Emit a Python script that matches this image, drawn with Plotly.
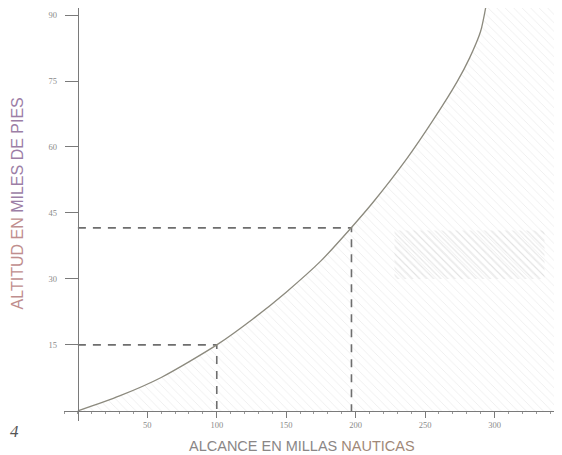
import plotly.graph_objects as go

# Data
curve_x = [0, 30, 60, 100, 126, 150, 175, 197, 213, 237, 256, 273, 282, 290, 294]
curve_y = [0, 3.4, 7.6, 15, 20.9, 27.0, 34.1, 41.7, 47.6, 57.4, 66.2, 74.8, 80.2, 86.3, 92.3]
ref_x = [100, 197]
ref_y = [15, 41.6]
x_ticks = [50, 100, 150, 200, 250, 300]
y_ticks = [15, 30, 45, 60, 75, 90]
band_x = [228, 336]
band_y = [30, 41]

X_RANGE = [-10, 348.6]
Y_RANGE = [-2.3, 91.6]

# the page puts the figure 8px in from the window's top-left corner
OFF = 8
W, H = 562 - OFF, 455 - OFF
ML, MR, MT, MB = 63.6 - OFF, 0, 0, 34
PW, PH = W - ML - MR, H - MT - MB


def px_to_paper(px, py):
    return (px - OFF - ML) / PW, (H - MB - (py - OFF)) / PH


fig = go.Figure()

# hatched region right of the curve
poly_x = list(curve_x) + [X_RANGE[1], X_RANGE[1], curve_x[0]]
poly_y = list(curve_y) + [Y_RANGE[1], 0, curve_y[0]]
fig.add_trace(go.Scatter(
    x=poly_x, y=poly_y, mode="lines", fill="toself",
    line=dict(width=0), fillcolor="rgba(0,0,0,0)",
    fillpattern=dict(shape="\\", fgcolor="#dedede", bgcolor="rgba(0,0,0,0)",
                     size=6, solidity=0.15),
    hoverinfo="skip", showlegend=False))

# darker hatched band
fig.add_trace(go.Scatter(
    x=[band_x[0], band_x[1], band_x[1], band_x[0], band_x[0]],
    y=[band_y[0], band_y[0], band_y[1], band_y[1], band_y[0]],
    mode="lines", fill="toself", line=dict(width=0), fillcolor="rgba(0,0,0,0)",
    fillpattern=dict(shape="\\", fgcolor="#d0d0d0", bgcolor="rgba(0,0,0,0)",
                     size=5, solidity=0.22),
    hoverinfo="skip", showlegend=False))

# dashed reference lines
for rx, ry in zip(ref_x, ref_y):
    fig.add_trace(go.Scatter(
        x=[0, rx, rx], y=[ry, ry, 0], mode="lines",
        line=dict(color="#6e6e6e", width=1.6, dash="8px,7px"),
        hoverinfo="skip", showlegend=False))

# main curve
fig.add_trace(go.Scatter(
    x=curve_x, y=curve_y, mode="lines", cliponaxis=False,
    line=dict(color="#8c8a7e", width=1.3, shape="spline", smoothing=0.7),
    hoverinfo="skip", showlegend=False))

tickfont = dict(family="Liberation Serif", size=8.5, color="#8a8a8a")

xt = px_to_paper(302, 446)
yt = px_to_paper(17, 203)
nt = px_to_paper(14, 431)

fig.update_layout(
    width=W, height=H,
    margin=dict(l=ML, r=MR, t=MT, b=MB, autoexpand=False),
    paper_bgcolor="white", plot_bgcolor="white",
    xaxis=dict(range=X_RANGE, showgrid=False, zeroline=False, automargin=False,
               tickvals=x_ticks, ticktext=[str(v) for v in x_ticks],
               showline=True, linecolor="#7a7a7a", linewidth=1.2,
               anchor="free", position=(0 - Y_RANGE[0]) / (Y_RANGE[1] - Y_RANGE[0]),
               ticks="outside", ticklen=6, tickcolor="#7a7a7a", tickwidth=1.2,
               minor=dict(dtick=10, tick0=0, ticks="outside", ticklen=2,
                          tickcolor="#9a9a9a"),
               tickfont=tickfont),
    yaxis=dict(range=Y_RANGE, showgrid=False, zeroline=False, automargin=False,
               tickvals=y_ticks, ticktext=[str(v) for v in y_ticks],
               showline=True, linecolor="#7a7a7a", linewidth=1.2,
               anchor="free", position=(0 - X_RANGE[0]) / (X_RANGE[1] - X_RANGE[0]),
               ticks="outside", ticklen=13, tickcolor="#7a7a7a", tickwidth=1.2,
               ticklabelstandoff=6,
               tickfont=tickfont),
    annotations=[
        dict(text="ALCANCE EN MILLAS <span style='color:#a08878'>NAUTICAS</span>",
             x=xt[0], y=xt[1], xref="paper",
             yref="paper", xanchor="center", yanchor="middle", showarrow=False,
             font=dict(family="Liberation Sans", size=14.5, color="#8a8686")),
        dict(text="<span style='color:#bf8e8e'>ALTITUD EN</span> MILES DE PIES",
             x=yt[0], y=yt[1], xref="paper",
             yref="paper", xanchor="center", yanchor="middle", showarrow=False,
             textangle=-90,
             font=dict(family="Liberation Sans", size=16, color="#9c7ea6")),
        dict(text="<i>4</i>", x=nt[0], y=nt[1], xref="paper", yref="paper",
             xanchor="center", yanchor="middle", showarrow=False,
             font=dict(family="Liberation Serif", size=17, color="#555")),
    ],
)

fig.write_html("out.html")
